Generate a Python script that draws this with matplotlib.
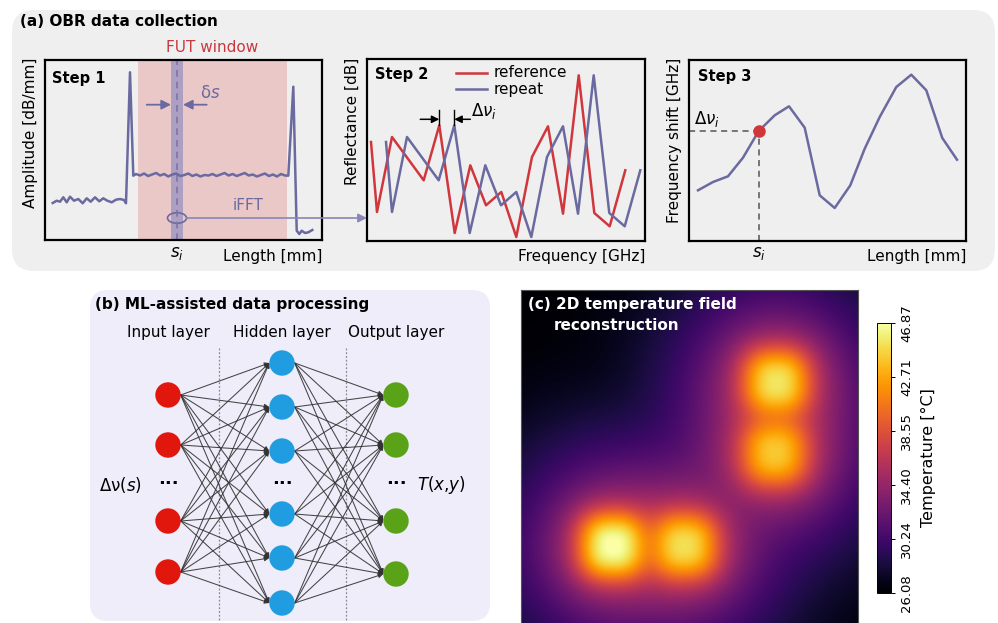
import numpy as np
import matplotlib
matplotlib.use("Agg")
import matplotlib.pyplot as plt
from matplotlib.patches import FancyBboxPatch, Ellipse, Circle

W, H = 998, 623

# ---- Step 1: backscatter amplitude along the fibre ----
amp_x = [7.7, 11.7, 15, 18.3, 21.7, 25, 29, 33.3, 37.7, 41.7, 45.7, 50, 54.3, 58.3,
         62.3, 66.7, 71, 75, 79, 81, 85, 88.3]
amp_y = [37, 39.3, 38.3, 42.7, 37.7, 43.3, 39.3, 41, 36.7, 41.7, 38.3, 42.7, 38.7, 41.7,
         39.3, 37.7, 40.3, 41, 40, 36.7, 167.7, 64.3]
amp_mid_y = [66, 64.5, 66.5, 64, 65.5, 67, 64.5, 66, 63.5, 65.5, 66.5, 64, 65, 66.5, 64,
             65.5, 63.5, 65, 64.5, 66, 64, 65.5, 67, 64.5, 66, 64, 65.5, 67, 64.5, 65.5,
             63.5, 65, 66.5, 64, 65.5, 63.5, 66, 64.5]
amp_end_x = [243.3, 248.3, 251.7, 254.3, 256.7, 260, 263.3, 267.3]
amp_end_y = [64.3, 153.3, 9.3, 6, 9.3, 7, 7.7, 10]
fut_window = (93, 242.3)
gauge = (126, 138)

# ---- Step 2: reflectance spectra ----
ref_x = [4, 10, 25, 56.7, 72.3, 87.7, 103.3, 119, 134.3, 149.3, 165, 181, 196, 211.7,
         227.3, 242.7, 258.3]
ref_y = [99, 29, 104, 60.7, 115.7, 8, 75.7, 35.7, 49, 4, 84, 114.7, 27.3, 165.7, 28,
         14.7, 70.7]
rep_x = [19, 25, 40, 71.7, 87.3, 102.7, 118.3, 134, 149.3, 164.3, 180, 196, 211, 226.7,
         242.3, 257.7, 273.3]
rep_y = [99, 29, 104, 60.7, 115.7, 8, 75.7, 35.7, 49, 4, 84, 114.7, 27.3, 165.7, 28,
         14.7, 70.7]

# ---- Step 3: frequency shift along the fibre ----
shift_x = [9, 24, 39, 54, 69.7, 85.7, 100, 115.7, 130.7, 145.7, 161.3, 175.7, 190.7,
           207.3, 222.3, 237.3, 253.3, 268]
shift_y = [50.7, 59, 64.7, 83.3, 110, 125.7, 134.7, 113.3, 45.7, 33, 55.7, 92.3, 124,
           154, 166.3, 150.7, 103, 81.3]
mark_idx = 4

# ---- Neural network layout ----
layer_x = [168, 282, 396]
input_y = [395, 445, 521, 572]
hidden_y = [363, 407, 451, 514, 558, 603]
output_y = [395, 445, 521, 574]
node_colors = ["#e1170d", "#1f9de0", "#5aa318"]
layer_names = ["Input layer", "Hidden layer", "Output layer"]

# ---- Temperature field hot spots ----
spot_u = [0.270, 0.485, 0.757, 0.752]
spot_v = [0.760, 0.760, 0.272, 0.485]
spot_peak = [46.87, 45.0, 45.3, 44.0]
t_min, t_max = 26.08, 46.87
cbar_ticks = [26.08, 30.24, 34.40, 38.55, 42.71, 46.87]

line_c = "#6b6aa0"
red_c = "#d0373d"

fig = plt.figure(figsize=(W / 100, H / 100), dpi=100)


def px_axes(x0, y0, x1, y1, **kw):
    return fig.add_axes([x0 / W, 1 - y1 / H, (x1 - x0) / W, (y1 - y0) / H], **kw)


def plain(ax):
    ax.set_xlim(0, W)
    ax.set_ylim(H, 0)
    ax.set_facecolor("none")
    ax.axis("off")


bg = px_axes(0, 0, W, H, zorder=0)
plain(bg)
bg.add_patch(FancyBboxPatch((12, 10), 983, 261, boxstyle="round,pad=0,rounding_size=22",
                            fc="#efefef", ec="none"))
bg.add_patch(FancyBboxPatch((90, 290), 400, 331, boxstyle="round,pad=0,rounding_size=18",
                            fc="#eeedf9", ec="none"))


def step_axes(x0, y0, x1, y1):
    ax = px_axes(x0, y0, x1, y1, zorder=2)
    ax.set_facecolor("none")
    ax.set_xlim(0, x1 - x0)
    ax.set_ylim(0, y1 - y0)
    ax.set_xticks([])
    ax.set_yticks([])
    for s in ax.spines.values():
        s.set_linewidth(1.6)
    return ax


# Step 1
ax1 = step_axes(45, 60, 322, 240)
ax1.axvspan(*fut_window, color="#ebc8c8", lw=0)
ax1.axvspan(*gauge, color="#ad9fc2", lw=0)
ax1.axvline(np.mean(gauge), color="#7b74a6", lw=1.2, ls=(0, (4, 3)))
mid_x = np.linspace(91, 240, len(amp_mid_y))
ax1.plot(amp_x + list(mid_x) + amp_end_x, amp_y + amp_mid_y + amp_end_y,
         color=line_c, lw=1.8)
ax1.annotate("", xy=(gauge[0], 135.3), xytext=(101.7, 135.3),
             arrowprops=dict(arrowstyle="-|>", color=line_c, lw=1.3, mutation_scale=14,
                             shrinkA=0, shrinkB=0))
ax1.annotate("", xy=(gauge[1], 135.3), xytext=(161.7, 135.3),
             arrowprops=dict(arrowstyle="-|>", color=line_c, lw=1.3, mutation_scale=14,
                             shrinkA=0, shrinkB=0))
ax1.add_patch(Ellipse((np.mean(gauge), 22), 19, 10.5, fill=False, ec=line_c, lw=1.2))

# Step 2
ax2 = step_axes(367, 59, 645, 241)
ax2.plot(ref_x, ref_y, color=red_c, lw=1.8)
ax2.plot(rep_x, rep_y, color=line_c, lw=1.8)
ax2.plot([89.3, 120], [168.3, 168.3], color=red_c, lw=1.8)
ax2.plot([89.3, 120], [151.7, 151.7], color=line_c, lw=1.8)
ax2.text(127, 168.3, "reference", fontsize=11, va="center")
ax2.text(127, 151.7, "repeat", fontsize=11, va="center")
pk_ref, pk_rep = ref_x[4], rep_x[4]
for xx in (pk_ref, pk_rep):
    ax2.plot([xx, xx], [115.7, 130.7], color="k", lw=1.0)
ax2.annotate("", xy=(pk_ref, 121.7), xytext=(53.3, 121.7),
             arrowprops=dict(arrowstyle="-|>", color="k", lw=1.1, mutation_scale=11,
                             shrinkA=0, shrinkB=0))
ax2.annotate("", xy=(pk_rep, 121.7), xytext=(103.3, 121.7),
             arrowprops=dict(arrowstyle="-|>", color="k", lw=1.1, mutation_scale=11,
                             shrinkA=0, shrinkB=0))
ax2.text(104, 130, r"$\Delta\nu_i$", fontsize=12, va="center", ha="left")

# Step 3
ax3 = step_axes(689, 60, 966, 241)
ax3.plot(shift_x, shift_y, color=line_c, lw=1.8)
mx, my = shift_x[mark_idx], shift_y[mark_idx]
ax3.plot([0, mx], [my, my], color="#555555", lw=1.1, ls=(0, (4, 3)))
ax3.plot([mx, mx], [0, my], color="#555555", lw=1.1, ls=(0, (4, 3)))
ax3.plot(mx, my, "o", color=red_c, ms=8, zorder=5)

# overlay for labels and connecting arrows
ov = px_axes(0, 0, W, H, zorder=6)
plain(ov)
ov.annotate("", xy=(367, 218), xytext=(186.5, 218),
            arrowprops=dict(arrowstyle="-|>", color="#8a86b6", lw=1.2, mutation_scale=13,
                            shrinkA=0, shrinkB=0))
ov.text(248, 206, "iFFT", color=line_c, fontsize=11, ha="center", va="center")
ov.text(200, 93, "δ$s$", color=line_c, fontsize=12, ha="left", va="center")
ov.text(20, 21, "(a) OBR data collection", fontsize=11, fontweight="bold", va="center")
ov.text(212, 48, "FUT window", color="#c9373f", fontsize=11, ha="center", va="center")
for x, y, s in [(52, 78, "Step 1"), (375, 75, "Step 2"), (698, 77, "Step 3")]:
    ov.text(x, y, s, fontsize=10.5, fontweight="bold", va="center")
for x, s in [(31, "Amplitude [dB/mm]"), (352, "Reflectance [dB]"),
             (675, "Frequency shift [GHz]")]:
    ov.text(x, 58, s, fontsize=11, rotation=90, ha="center", va="top")
for x, s in [(322, "Length [mm]"), (645, "Frequency [GHz]"), (966, "Length [mm]")]:
    ov.text(x, 257, s, fontsize=11, ha="right", va="center")
for x in (45 + np.mean(gauge), 689 + mx):
    ov.text(x, 253, "$s_i$", fontsize=12, ha="center", va="center")
ov.text(694, 119, r"$\Delta\nu_i$", fontsize=12, ha="left", va="center")

# (b) network
ov.text(95, 305, "(b) ML-assisted data processing", fontsize=11, fontweight="bold",
        va="center")
for x, s in zip(layer_x, layer_names):
    ov.text(x, 333, s, fontsize=11, ha="center", va="center")
for x in (219, 346):
    ov.plot([x, x], [348, 621], color="#8a8a8a", lw=0.9, ls=(0, (1.5, 1.5)))
r = 12.7
layers = [input_y, hidden_y, output_y]
for li in range(2):
    for sy in layers[li]:
        for ty in layers[li + 1]:
            ov.annotate("", xy=(layer_x[li + 1] - r, ty), xytext=(layer_x[li] + r, sy),
                        arrowprops=dict(arrowstyle="-|>", color="#333333", lw=0.75,
                                        alpha=0.9, mutation_scale=7, shrinkA=0,
                                        shrinkB=0))
for x, ys, c in zip(layer_x, layers, node_colors):
    for y in ys:
        ov.add_patch(Circle((x, y), r, fc=c, ec="none", zorder=4))
    ov.text(x, 484, "···", fontsize=13, fontweight="bold", ha="center", va="center")
ov.text(120, 485, r"Δν($s$)", fontsize=12, ha="center", va="center")
ov.text(441, 485, r"$T(x{,}y)$", fontsize=12, ha="center", va="center")

# (c) temperature field: each heater adds a broad glow, a halo and a slightly square
# core; overlapping heaters combine through a 3-norm
n = 320
u, v = np.meshgrid(np.linspace(0, 1, n), np.linspace(0, 1, n))
base = 26.1
parts = []
for su, sv, pk in zip(spot_u, spot_v, spot_peak):
    dx, dy = u - su, v - sv
    d2 = dx ** 2 + dy ** 2
    core = np.exp(-(np.abs(dx) / 0.105) ** 2.6 - (np.abs(dy) / 0.105) ** 2.6)
    rise = 7.0 * np.exp(-d2 / (2 * 0.25 ** 2)) + 5.0 * np.exp(-d2 / (2 * 0.11 ** 2))
    parts.append(rise + (pk - base - 12.0) * core)
field = base + np.sum(np.array(parts) ** 3, axis=0) ** (1 / 3)

axc = px_axes(521, 290, 858, 627, zorder=2)
im = axc.imshow(field, cmap="inferno", vmin=t_min, vmax=t_max, extent=[0, 1, 1, 0],
                interpolation="bilinear")
axc.set_xticks([])
axc.set_yticks([])
for s in axc.spines.values():
    s.set_linewidth(0.8)
    s.set_color("#555555")
ov.text(528, 305, "(c) 2D temperature field", color="white", fontsize=11,
        fontweight="bold", va="center")
ov.text(554, 325, "reconstruction", color="white", fontsize=11, fontweight="bold",
        va="center")

cax = px_axes(877, 323, 891, 593, zorder=2)
cb = fig.colorbar(im, cax=cax, ticks=cbar_ticks)
cb.ax.set_yticklabels([f"{t:.2f}" for t in cbar_ticks], rotation=90, va="center",
                      fontsize=9.5)
cb.ax.tick_params(length=3, width=0.7)
cb.outline.set_linewidth(0.7)
cb.set_label("Temperature [°C]", fontsize=11.5, labelpad=6)

fig.savefig("out.png", dpi=100)
